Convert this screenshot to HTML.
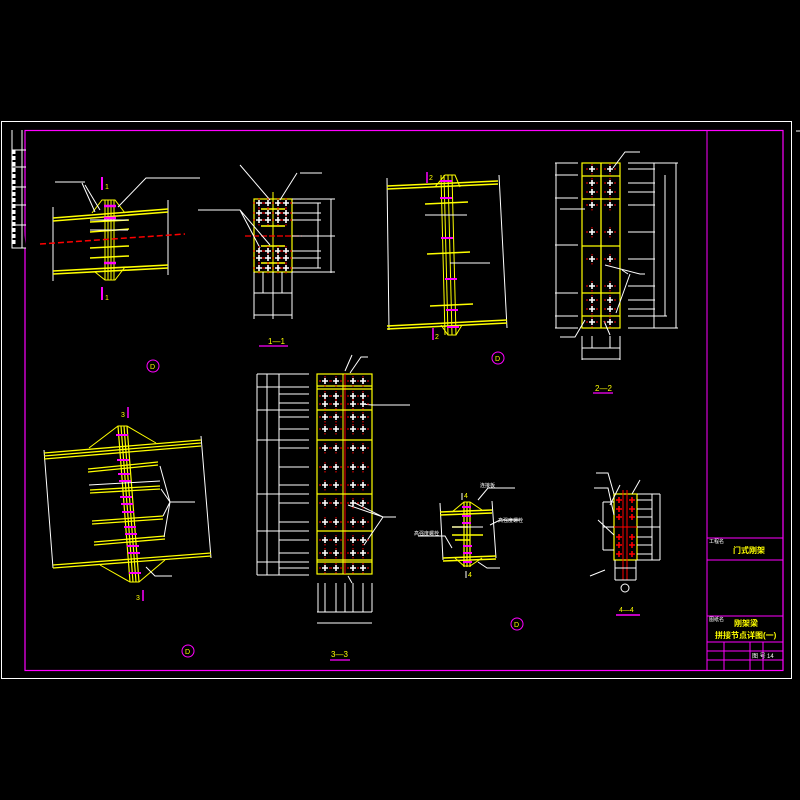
<!DOCTYPE html>
<html><head><meta charset="utf-8"><style>
html,body{margin:0;padding:0;background:#000;}
svg{display:block;}
text{font-family:"Liberation Sans","Noto Sans CJK SC",sans-serif;}
</style></head><body>
<svg width="800" height="800" viewBox="0 0 800 800" xmlns="http://www.w3.org/2000/svg">
<defs>
<g id="b"><path d="M-3 0H3M0-3V3" stroke="#fff" stroke-width="1.6"/><path d="M-6 0h2M4 0h2M0 -5v1.5M0 4v1.5" stroke="#f00" stroke-width="1"/></g>
<g id="rb"><path d="M-3 0H3M0-3V3" stroke="#f00" stroke-width="1.6"/></g>
</defs>
<rect width="800" height="800" fill="#000"/>
<!-- outer frames -->
<rect x="1.5" y="121.5" width="790" height="557" fill="none" stroke="#fff" stroke-width="1"/>
<path d="M796 131h4" stroke="#fff"/>
<rect x="25" y="130.5" width="758" height="540" fill="none" stroke="#f0f" stroke-width="1.2"/>
<path d="M707 130V670M707 538H783M707 560H783M707 616H783M707 642H783M707 651H783M707 660H783M724 642V670M750 642V670M763 642V670" stroke="#f0f" stroke-width="1"/>
<text x="709" y="543" font-size="5" fill="#fff">工程名</text>
<text x="733" y="553" font-size="8" fill="#ff0" font-weight="bold">门式刚架</text>
<text x="709" y="621" font-size="5" fill="#fff">图纸名</text>
<text x="734" y="626" font-size="8" fill="#ff0" font-weight="bold">刚架梁</text>
<text x="715" y="638" font-size="8" fill="#ff0" font-weight="bold">拼接节点详图(一)</text>
<text x="752" y="658" font-size="6" fill="#fff">图 号</text>
<text x="767" y="658" font-size="6" fill="#fff">14</text>
<!-- left strip -->
<path d="M12 130V248H26M12 150H26M12 167H26M12 187H26M12 205H26M12 225H26M22 130V248" stroke="#fff" stroke-width="1"/>
<path d="M14 150V244" stroke="#fff" stroke-width="3" stroke-dasharray="4 2"/>

<!-- ===== Drawing 1 ===== -->
<g fill="none" stroke-width="1">
<path d="M53 207V281M168 200V275" stroke="#fff"/>
<path d="M53 218L168 209M53 221L168 212M53 271L168 265M53 274L168 268" stroke="#ff0" stroke-width="1.6"/>
<path d="M92 213L102 200H115L125 213M95 272L105 280H115L125 267" stroke="#ff0"/>
<path d="M105 200V280M108 200V280M111 200V280M114 200V280" stroke="#ff0"/>
<path d="M90 222L129 220M90 232L129 229M90 248L129 246M90 258L129 256" stroke="#ff0" stroke-width="1.5"/>
<path d="M90 220L128 220M90 230L128 230" stroke="#fff"/>
<path d="M40 244L185 234" stroke="#f00" stroke-width="1.5" stroke-dasharray="6 3"/>
<path d="M104 206h12M104 218h12M104 263h12" stroke="#f0f" stroke-width="2.5"/>
<path d="M102 177V190M102 287V300" stroke="#f0f" stroke-width="2"/>
<path d="M118 207L146 178H200M85 185L100 210M82 183L95 212M55 182H85" stroke="#fff"/>
</g>
<text x="105" y="189" font-size="7" fill="#ff0">1</text>
<text x="105" y="300" font-size="7" fill="#ff0">1</text>

<!-- ===== Drawing 1-1 ===== -->
<g fill="none">
<rect x="254" y="199" width="38" height="73" stroke="#ff0" stroke-width="1.2"/>
<path d="M273 192V272" stroke="#ff0"/>
<path d="M261 209H285M261 226H285M261 246H285M261 263H285" stroke="#ff0" stroke-width="1.5"/>
<path d="M245 236H302" stroke="#f00" stroke-width="1.2" stroke-dasharray="6 2"/>
<path d="M292 199H335M292 203H321M292 213H321M292 220H321M292 236H335M292 251H321M292 258H321M292 268H321M292 272H335M331 199V273M318 203V268" stroke="#fff"/>
<path d="M254 272V319M292 272V319M263 272V293M273 272V319M282 272V293M254 293H292M254 315H292" stroke="#fff"/>
<path d="M240 165L270 200M297 173L280 200M300 173H322M198 210H240L270 245M240 210L260 248" stroke="#fff"/>
<path d="M259 346H288" stroke="#f0f" stroke-width="1.2"/>
</g>
<g>
<use href="#b" x="259" y="203"/><use href="#b" x="268" y="203"/><use href="#b" x="278" y="203"/><use href="#b" x="286" y="203"/>
<use href="#b" x="259" y="213"/><use href="#b" x="268" y="213"/><use href="#b" x="278" y="213"/><use href="#b" x="286" y="213"/>
<use href="#b" x="259" y="220"/><use href="#b" x="268" y="220"/><use href="#b" x="278" y="220"/><use href="#b" x="286" y="220"/>
<use href="#b" x="259" y="251"/><use href="#b" x="268" y="251"/><use href="#b" x="278" y="251"/><use href="#b" x="286" y="251"/>
<use href="#b" x="259" y="258"/><use href="#b" x="268" y="258"/><use href="#b" x="278" y="258"/><use href="#b" x="286" y="258"/>
<use href="#b" x="259" y="268"/><use href="#b" x="268" y="268"/><use href="#b" x="278" y="268"/><use href="#b" x="286" y="268"/>
</g>
<text x="268" y="344" font-size="8" fill="#ff0">1—1</text>
<circle cx="153" cy="366" r="6" fill="none" stroke="#f0f"/><text x="150" y="369" font-size="7" fill="#ff0">D</text>

<!-- ===== Drawing 2 ===== -->
<g fill="none">
<path d="M387 178L389 330M499 175L507 328" stroke="#fff"/>
<path d="M387 186L498 181M387 189L498 184M387 326L507 320M387 329L507 323" stroke="#ff0" stroke-width="1.5"/>
<path d="M444 175L448 335M448 175L452 335M452 175L456 335M441 175L445 335" stroke="#ff0"/>
<path d="M435 187L445 175H455L460 187M441 325L448 335H456L462 325" stroke="#ff0"/>
<path d="M425 204L468 202M427 254L470 252M430 306L473 304" stroke="#ff0" stroke-width="1.5"/>
<path d="M425 215H467M450 263L490 263" stroke="#fff"/>
<path d="M440 181h12M440 198h12M441 238h12M445 279h12M446 310h12M447 327h12" stroke="#f0f" stroke-width="2"/>
<path d="M427 172V183M433 328V340" stroke="#f0f" stroke-width="1.5"/>
</g>
<text x="429" y="180" font-size="7" fill="#ff0">2</text>
<text x="435" y="339" font-size="7" fill="#ff0">2</text>
<circle cx="498" cy="358" r="6" fill="none" stroke="#f0f"/><text x="495" y="361" font-size="7" fill="#ff0">D</text>

<!-- ===== Drawing 2-2 ===== -->
<g fill="none">
<rect x="582" y="163" width="38" height="165" stroke="#ff0" stroke-width="1.2"/>
<path d="M601 163V328M582 176H620M582 199H620M582 246H620M582 293H620M582 316H620" stroke="#ff0" stroke-width="1.3"/>
<path d="M556 163V328M555 163H578M555 175H578M555 198H578M555 245H578M555 293H578M555 316H578M555 328H578" stroke="#fff"/>
<path d="M628 163H678M628 169H655M628 183H655M628 192H655M628 205H655M628 232H655M628 259H655M628 286H655M628 300H655M628 309H655M628 316H667M628 328H678M654 163V328M665 175V316M676 163V328" stroke="#fff"/>
<path d="M582 336V360M620 336V360M592 336V348M610 336V348M582 348H620M582 359H620" stroke="#fff"/>
<path d="M613 168L625 152H640M622 270L628 274M605 265L640 274H645M616 313L630 274M560 337H575L585 320M560 209H585M604 321L610 335" stroke="#fff"/>
<path d="M593 393H613" stroke="#f0f" stroke-width="1.2"/>
</g>
<g>
<use href="#b" x="592" y="169"/><use href="#b" x="610" y="169"/>
<use href="#b" x="592" y="183"/><use href="#b" x="610" y="183"/>
<use href="#b" x="592" y="192"/><use href="#b" x="610" y="192"/>
<use href="#b" x="592" y="205"/><use href="#b" x="610" y="205"/>
<use href="#b" x="592" y="232"/><use href="#b" x="610" y="232"/>
<use href="#b" x="592" y="259"/><use href="#b" x="610" y="259"/>
<use href="#b" x="592" y="286"/><use href="#b" x="610" y="286"/>
<use href="#b" x="592" y="300"/><use href="#b" x="610" y="300"/>
<use href="#b" x="592" y="309"/><use href="#b" x="610" y="309"/>
<use href="#b" x="592" y="322"/><use href="#b" x="610" y="322"/>
</g>
<text x="595" y="391" font-size="8" fill="#ff0">2—2</text>

<!-- ===== Drawing 3 ===== -->
<g fill="none">
<path d="M44 450L53 568M201 436L211 558" stroke="#fff"/>
<path d="M44 453L201 440M44 456L201 443M44 459L201 446M53 565L211 553M53 568L211 556" stroke="#ff0" stroke-width="1.3"/>
<path d="M118 426L130 582M121 426L133 582M124 426L136 582M127 426L139 582" stroke="#ff0" stroke-width="1.2"/>
<path d="M89 448L118 426H127L156 443M100 565L130 582H139L165 560" stroke="#ff0"/>
<path d="M88 469L158 462M88 472L158 465M90 490L160 486M90 493L160 489M92 521L163 516M92 524L163 519M94 542L165 536M94 545L165 539" stroke="#ff0" stroke-width="1.3"/>
<path d="M89 485L160 481M160 466L170 502H195M161 489L170 502M163 516L170 502M164 537L170 502" stroke="#fff"/>
<path d="M116 435h12M117 460h12M118 474h12M119 481h12M120 497h12M121 504h12M122 512h12M124 527h12M125 534h12M127 546h12M128 553h12M129 573h12" stroke="#f0f" stroke-width="2"/>
<path d="M128 407V418M143 590V601" stroke="#f0f" stroke-width="1.5"/>
<path d="M146 567L155 576H172" stroke="#fff"/>
</g>
<text x="121" y="417" font-size="7" fill="#ff0">3</text>
<text x="136" y="600" font-size="7" fill="#ff0">3</text>
<circle cx="188" cy="651" r="6" fill="none" stroke="#f0f"/><text x="185" y="654" font-size="7" fill="#ff0">D</text>

<!-- ===== Drawing 3-3 ===== -->
<g fill="none">
<rect x="317" y="374" width="55" height="200" stroke="#ff0" stroke-width="1.2"/>
<path d="M343 374V574" stroke="#ff0"/><path d="M345 374V574" stroke="#f00"/>
<path d="M317 386H372M317 389H372M317 410H372M317 440H372M317 494H372M317 531H372M317 560H372M317 562H372" stroke="#ff0" stroke-width="1.2"/>
<path d="M257 374V575M267 374V575M279 374V575" stroke="#fff"/>
<path d="M257 374H309M257 387H309M279 394H309M279 403H309M257 410H309M279 417H309M279 429H309M257 440H309M279 448H309M279 467H309M279 485H309M257 494H309M279 503H309M279 522H309M257 531H309M279 540H309M279 553H309M257 562H309M279 568H309M257 575H309" stroke="#fff"/>
<path d="M318 583V612M372 583V612M325 583V612M336 583V612M345 583V612M353 583V612M363 583V612M317 612H372M317 623H372" stroke="#fff"/>
<path d="M345 371L352 355M350 373L361 357H368M372 405H410M362 404L372 405M355 503L383 517H396M364 545L383 517M348 505L383 517M348 576L352 583" stroke="#fff"/>
<path d="M330 660H350" stroke="#f0f" stroke-width="1.2"/>
</g>
<g>
<use href="#b" x="325" y="381"/><use href="#b" x="336" y="381"/><use href="#b" x="353" y="381"/><use href="#b" x="363" y="381"/>
<use href="#b" x="325" y="396"/><use href="#b" x="336" y="396"/><use href="#b" x="353" y="396"/><use href="#b" x="363" y="396"/>
<use href="#b" x="325" y="404"/><use href="#b" x="336" y="404"/><use href="#b" x="353" y="404"/><use href="#b" x="363" y="404"/>
<use href="#b" x="325" y="417"/><use href="#b" x="336" y="417"/><use href="#b" x="353" y="417"/><use href="#b" x="363" y="417"/>
<use href="#b" x="325" y="429"/><use href="#b" x="336" y="429"/><use href="#b" x="353" y="429"/><use href="#b" x="363" y="429"/>
<use href="#b" x="325" y="448"/><use href="#b" x="336" y="448"/><use href="#b" x="353" y="448"/><use href="#b" x="363" y="448"/>
<use href="#b" x="325" y="467"/><use href="#b" x="336" y="467"/><use href="#b" x="353" y="467"/><use href="#b" x="363" y="467"/>
<use href="#b" x="325" y="485"/><use href="#b" x="336" y="485"/><use href="#b" x="353" y="485"/><use href="#b" x="363" y="485"/>
<use href="#b" x="325" y="503"/><use href="#b" x="336" y="503"/><use href="#b" x="353" y="503"/><use href="#b" x="363" y="503"/>
<use href="#b" x="325" y="522"/><use href="#b" x="336" y="522"/><use href="#b" x="353" y="522"/><use href="#b" x="363" y="522"/>
<use href="#b" x="325" y="540"/><use href="#b" x="336" y="540"/><use href="#b" x="353" y="540"/><use href="#b" x="363" y="540"/>
<use href="#b" x="325" y="553"/><use href="#b" x="336" y="553"/><use href="#b" x="353" y="553"/><use href="#b" x="363" y="553"/>
<use href="#b" x="325" y="568"/><use href="#b" x="336" y="568"/><use href="#b" x="353" y="568"/><use href="#b" x="363" y="568"/>
</g>
<text x="331" y="657" font-size="8" fill="#ff0">3—3</text>

<!-- ===== Drawing 4 ===== -->
<g fill="none">
<path d="M440 503L443 560M492 501L496 558" stroke="#fff"/>
<path d="M440 512L492 510M440 515L492 513M443 558L496 556M443 561L496 559" stroke="#ff0" stroke-width="1.5"/>
<path d="M464 502V567M467 502V567M470 502V567" stroke="#ff0" stroke-width="1.2"/>
<path d="M452 512L464 502H470L482 510M455 558L464 566H470L482 558" stroke="#ff0"/>
<path d="M452 527H468M452 535H483M455 540H470" stroke="#ff0" stroke-width="1.5"/>
<path d="M452 527H483" stroke="#fff"/>
<path d="M462 507h9M462 516h9M462 523h9M463 546h9M463 553h9M463 562h9" stroke="#f0f" stroke-width="2"/>
<path d="M462 493V500M466 571V578M478 500L488 488H515M418 536H445L452 548M490 525L500 520H520M478 562L487 568H500" stroke="#fff"/>
</g>
<text x="464" y="498" font-size="7" fill="#ff0">4</text>
<text x="468" y="577" font-size="7" fill="#ff0">4</text>
<text x="480" y="487" font-size="5" fill="#fff">连接板</text>
<text x="414" y="535" font-size="5" fill="#fff">高强度螺栓</text>
<text x="498" y="522" font-size="5" fill="#fff">高强度螺栓</text>
<circle cx="517" cy="624" r="6" fill="none" stroke="#f0f"/><text x="514" y="627" font-size="7" fill="#ff0">D</text>

<!-- ===== Drawing 4-4 ===== -->
<g fill="none">
<rect x="614" y="494" width="23" height="66" stroke="#ff0" stroke-width="1.2"/>
<path d="M623 490V580M627 490V580" stroke="#f00"/>
<path d="M605 527H648" stroke="#f00" stroke-width="1"/>
<path d="M637 494H660M637 500H652M637 509H652M637 517H652M637 527H660M637 537H652M637 545H652M637 554H652M637 560H660M652 494V560M660 494V560M603 502V550M603 502H614M603 527H614M603 550H614" stroke="#fff"/>
<path d="M615 568H636M615 580H636M615 560V580M636 560V580" stroke="#fff"/>
<path d="M596 473H608L614 494M594 488H608L614 515M620 485L610 505M640 480L632 494M598 520L614 535M590 576L605 570" stroke="#fff"/>
<path d="M616 615H640" stroke="#f0f" stroke-width="1.5"/>
</g>
<g>
<use href="#rb" x="619" y="500"/><use href="#rb" x="632" y="500"/>
<use href="#rb" x="619" y="509"/><use href="#rb" x="632" y="509"/>
<use href="#rb" x="619" y="517"/><use href="#rb" x="632" y="517"/>
<use href="#rb" x="619" y="537"/><use href="#rb" x="632" y="537"/>
<use href="#rb" x="619" y="545"/><use href="#rb" x="632" y="545"/>
<use href="#rb" x="619" y="554"/><use href="#rb" x="632" y="554"/>
</g>
<circle cx="625" cy="588" r="4" fill="none" stroke="#fff"/>
<text x="619" y="612" font-size="7" fill="#ff0">4—4</text>
</svg>
</body></html>
